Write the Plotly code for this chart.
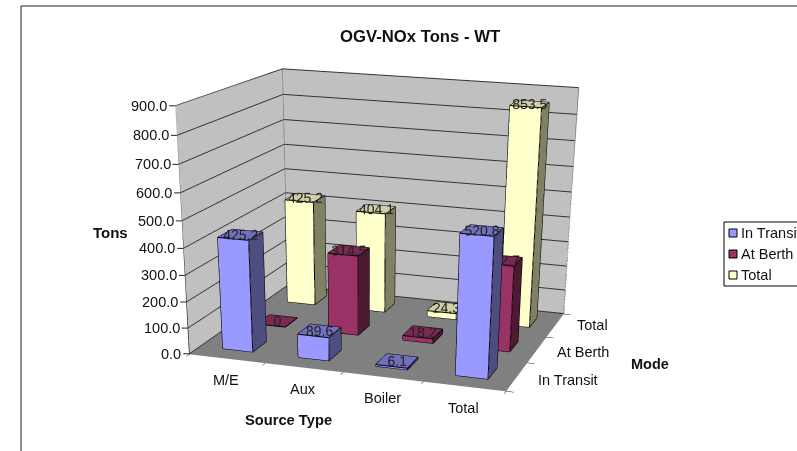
import plotly.graph_objects as go

categories = ["M/E", "Aux", "Boiler", "Total"]
series_names = ["In Transit", "At Berth", "Total"]
in_transit = [425.2, 89.6, 6.1, 520.8]
at_berth = [0, 314.5, 18.2, 332.7]
total = [425.2, 404.1, 24.3, 853.5]
z_ticks = [0, 100, 200, 300, 400, 500, 600, 700, 800, 900]
front = ["#9999FF", "#993366", "#FFFFCC"]
side = ["#4D4D80", "#4D1933", "#808066"]
top = ["#7070C0", "#7A2952", "#D0D0A6"]
mode_xshift = [51, 46, 37]
mode_yshift = [-4, -3, 0]

WIDTH, HEIGHT = 844, 1200
eye = dict(x=1.3013, y=-4.0699, z=0.9784)
center = dict(x=0.5244, y=-1.3635, z=-0.4937)
up = dict(x=0.4084, y=-1.4381, z=1)
aspect = dict(x=0.94, y=0.7777, z=0.6869)
X_RANGE, Y_RANGE, Z_RANGE = [-0.5, 3.5], [-0.5, 2.5], [-2, 900]
TXT = "#111"


def toward_eye(x, y, z, t=0.03):
    """Slide a data point along the ray to the camera so its label is not buried in its own bar."""
    out = []
    for val, rng, k in ((x, X_RANGE, "x"), (y, Y_RANGE, "y"), (z, Z_RANGE, "z")):
        mid, span = (rng[0] + rng[1]) / 2, rng[1] - rng[0]
        s = (val - mid) / span * aspect[k]
        s += t * (eye[k] - s)
        out.append(s / aspect[k] * span + mid)
    return out


traces = []
for s, vals in enumerate([in_transit, at_berth, total]):
    X, Y, Z, I, J, K, FC = [], [], [], [], [], [], []
    ex, ey, ez = [], [], []
    lx, ly, lz = [], [], []
    for c, v in enumerate(vals):
        b = len(X)
        x0, x1 = c - 0.2, c + 0.2
        y0, y1 = s - 0.2, s + 0.2
        for zz in (0, v):
            for (xx, yy) in ((x0, y0), (x1, y0), (x1, y1), (x0, y1)):
                X.append(xx); Y.append(yy); Z.append(zz)
        quads = [((0, 1, 5, 4), front[s]), ((1, 2, 6, 5), side[s]), ((4, 5, 6, 7), top[s]),
                 ((3, 0, 4, 7), side[s]), ((2, 3, 7, 6), side[s])]
        for q, col in quads:
            for t in ((q[0], q[1], q[2]), (q[0], q[2], q[3])):
                I.append(b + t[0]); J.append(b + t[1]); K.append(b + t[2]); FC.append(col)
        for a, bb in ((0, 1), (1, 2), (2, 3), (3, 0), (4, 5), (5, 6), (6, 7), (7, 4), (0, 4), (1, 5), (2, 6), (3, 7)):
            ex += [X[b + a], X[b + bb], None]
            ey += [Y[b + a], Y[b + bb], None]
            ez += [Z[b + a], Z[b + bb], None]
        p = toward_eye(c, s, v)
        lx.append(p[0]); ly.append(p[1]); lz.append(p[2])
    traces.append(go.Mesh3d(x=X, y=Y, z=Z, i=I, j=J, k=K, facecolor=FC, flatshading=True, hoverinfo="skip",
                            lighting=dict(ambient=1, diffuse=0, specular=0, fresnel=0, roughness=1), showscale=False))
    traces.append(go.Scatter3d(x=ex, y=ey, z=ez, mode="lines", line=dict(color="black", width=2),
                               hoverinfo="skip", showlegend=False))
    traces.append(go.Scatter3d(x=lx, y=ly, z=lz, mode="text",
                               text=[str(v) for v in vals], textposition="middle center",
                               textfont=dict(size=14, color="#222", family="Liberation Sans"),
                               hoverinfo="skip", showlegend=False))

xa, xb = X_RANGE
ya, yb = Y_RANGE
za, zb = Z_RANGE
traces.append(go.Scatter3d(x=[xa, xa, None, xa, xb, xb], y=[ya, yb, None, yb, yb, yb], z=[zb, zb, None, zb, zb, za],
                           mode="lines", line=dict(color="#808080", width=2), hoverinfo="skip", showlegend=False))
traces.append(go.Scatter3d(x=[xa, xa], y=[yb, yb], z=[za, zb],
                           mode="lines", line=dict(color="#808080", width=1.5), hoverinfo="skip", showlegend=False))
traces.append(go.Scatter3d(x=[xa, xa, xb, xb], y=[ya, ya, ya, yb], z=[zb, za, za, za],
                           mode="lines", line=dict(color="#222", width=1.5), hoverinfo="skip", showlegend=False))

ax = dict(showbackground=True, backgroundcolor="#C0C0C0", showgrid=False, zeroline=False, showspikes=False,
          title=dict(text=""), showline=False, ticks="outside", tickcolor="black", ticklen=6, showticklabels=False)


def px(x, y):
    return dict(xref="paper", yref="paper", x=x / WIDTH, y=1 - y / HEIGHT)


z_notes = [dict(x=xa, y=ya, z=v, text=f"{v:.1f}", showarrow=True, ax=-6, ay=0, arrowhead=0, arrowwidth=1,
                arrowcolor="#222", xanchor="right", font=dict(size=14.5, color=TXT)) for v in z_ticks]
cat_notes = [dict(x=i, y=ya, z=0, text=c, showarrow=False, yshift=-22, xshift=-1, font=dict(size=14.5, color=TXT))
             for i, c in enumerate(categories)]
mode_notes = [dict(x=xb, y=i, z=0, text=c, showarrow=False, xshift=mode_xshift[i], yshift=mode_yshift[i],
                   font=dict(size=14.5, color=TXT))
              for i, c in enumerate(series_names)]

legend_shapes = [dict(type="rect", xref="paper", yref="paper", x0=724 / WIDTH, x1=830 / WIDTH, y0=1 - 286 / HEIGHT,
                      y1=1 - 222 / HEIGHT, line=dict(color="black", width=1), fillcolor="white")]
legend_notes = []
for i, name in enumerate(series_names):
    yc = 233 + 21 * i
    legend_shapes.append(dict(type="rect", xref="paper", yref="paper", x0=729 / WIDTH, x1=737 / WIDTH,
                              y0=1 - (yc + 4) / HEIGHT, y1=1 - (yc - 4) / HEIGHT,
                              line=dict(color="black", width=1), fillcolor=front[i]))
    legend_notes.append(dict(px(741, yc), text=name, showarrow=False, xanchor="left", yanchor="middle",
                             xshift=-2, font=dict(size=14.5, color=TXT, family="Liberation Sans")))

fig = go.Figure(traces)
fig.update_layout(
    width=WIDTH, height=HEIGHT, margin=dict(l=0, r=0, t=0, b=0, autoexpand=False), paper_bgcolor="white",
    showlegend=False, font=dict(family="Liberation Sans", size=14, color=TXT),
    scene=dict(
        domain=dict(x=[0, 1], y=[0, 1]), aspectmode="manual", aspectratio=aspect, dragmode="orbit",
        camera=dict(eye=eye, center=center, up=up, projection=dict(type="perspective")),
        xaxis=dict(ax, range=X_RANGE, tickvals=[-0.5, 0.5, 1.5, 2.5, 3.5]),
        yaxis=dict(ax, range=Y_RANGE, tickvals=[-0.5, 0.5, 1.5, 2.5]),
        zaxis=dict(ax, range=Z_RANGE, tickvals=z_ticks, ticks="", showgrid=True, gridcolor="#333",
                   backgroundcolor="#808080"),
        annotations=z_notes + cat_notes + mode_notes),
    shapes=[dict(type="rect", xref="paper", yref="paper", x0=21 / WIDTH, x1=1.2, y0=-0.2, y1=1 - 6 / HEIGHT,
                 line=dict(color="#222", width=1))] + legend_shapes,
    annotations=[dict(px(x, y), text=t, showarrow=False, font=dict(size=sz, family="Liberation Sans", color=TXT),
                      xanchor="center", yanchor="middle")
                 for x, y, t, sz in [(420, 36, "<b>OGV-NOx Tons - WT</b>", 16.7), (110, 232, "<b>Tons</b>", 15),
                                     (288, 420, "<b>Source Type</b>", 14.7), (650, 364, "<b>Mode</b>", 14.5)]]
    + legend_notes)
fig.write_html("out.html", config=dict(displayModeBar=False),
               post_script="document.documentElement.style.overflow='hidden';document.body.style.overflow='hidden';document.body.style.margin='0';")
